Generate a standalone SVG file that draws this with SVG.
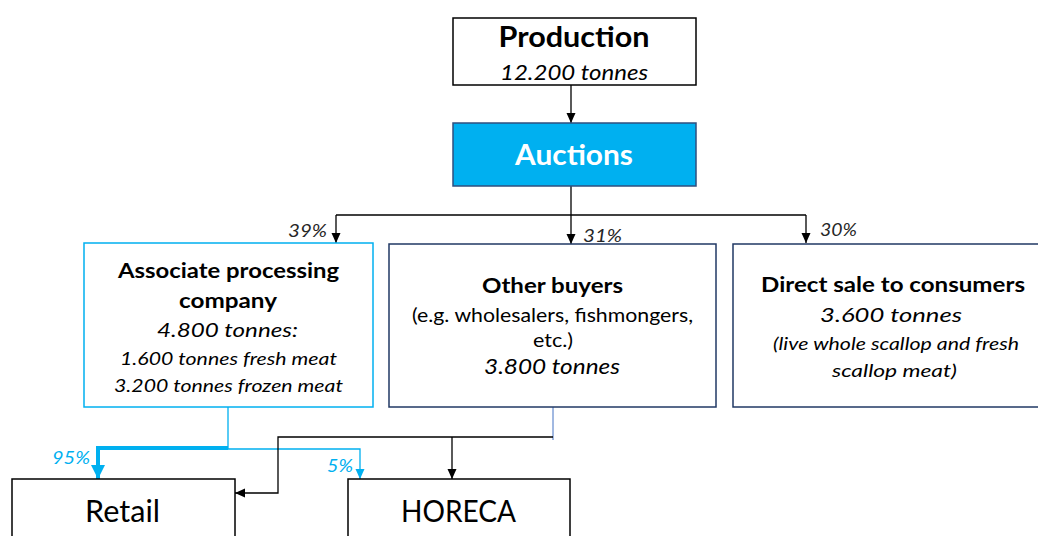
<svg xmlns="http://www.w3.org/2000/svg" width="1038" height="536" viewBox="0 0 1038 536">
<style>
text{font-family:Lato,"Open Sans","Liberation Sans",sans-serif;fill:#000;text-anchor:middle}
.b{font-weight:bold}
.i{font-style:italic}
.pct{font-style:italic;fill:#262626;text-anchor:start}
.bpct{font-style:italic;fill:#00B0F0;text-anchor:start}
.box{fill:#fff;stroke:#000;stroke-width:1.5}
.navy{fill:#fff;stroke:#203864;stroke-width:1.5}
.lb{fill:#fff;stroke:#00B0F0;stroke-width:1.5}
.ln{fill:none;stroke:#000;stroke-width:1.3}
.bl{fill:none;stroke:#00B0F0;stroke-width:1.3}
.blt{fill:none;stroke:#00B0F0;stroke-width:4}
</style>
<defs>
<marker id="ah" markerUnits="userSpaceOnUse" markerWidth="10" markerHeight="10" viewBox="0 0 10 10" refX="10" refY="5" orient="auto"><path d="M0,0.5 L10,5 L0,9.5 Z" fill="#000"/></marker>
<marker id="ahb" markerUnits="userSpaceOnUse" markerWidth="10" markerHeight="10" viewBox="0 0 10 10" refX="10" refY="5" orient="auto"><path d="M0,0.5 L10,5 L0,9.5 Z" fill="#00B0F0"/></marker>
<marker id="ahbt" markerUnits="userSpaceOnUse" markerWidth="14" markerHeight="14" viewBox="0 0 14 14" refX="14" refY="7" orient="auto"><path d="M0,0 L14,7 L0,14 Z" fill="#00B0F0"/></marker>
</defs>
<g id="connectors">
<path class="ln" d="M571,85 V123" marker-end="url(#ah)"/>
<path class="ln" d="M571,186 V215"/>
<path class="ln" d="M336,215 H806"/>
<path class="ln" d="M336,215 V243" marker-end="url(#ah)"/>
<path class="ln" d="M571,215 V244" marker-end="url(#ah)"/>
<path class="ln" d="M806,215 V243" marker-end="url(#ah)"/>
<path class="bl" d="M228,407 V449 H360 V479" marker-end="url(#ahb)"/>
<path class="blt" d="M228,448 H98 V479" marker-end="url(#ahbt)"/>
<path fill="none" stroke="#4472C4" stroke-width="1" d="M553,407 V440"/>
<path class="ln" d="M553,437 H278 V493 H235" marker-end="url(#ah)"/>
<path class="ln" d="M452,437 V479" marker-end="url(#ah)"/>
<text class="pct" x="288" y="237" font-size="17" textLength="39" lengthAdjust="spacingAndGlyphs">39%</text>
<text class="pct" x="583" y="242" font-size="17" textLength="39" lengthAdjust="spacingAndGlyphs">31%</text>
<text class="pct" x="820" y="236" font-size="17" textLength="37" lengthAdjust="spacingAndGlyphs">30%</text>
<text class="bpct" x="52" y="464" font-size="17" textLength="38" lengthAdjust="spacingAndGlyphs">95%</text>
<text class="bpct" x="327" y="472" font-size="17" textLength="26" lengthAdjust="spacingAndGlyphs">5%</text>
</g>
<g id="production">
<rect class="box" x="453" y="18" width="243" height="67"/>
<text class="b" x="574" y="47" font-size="29" textLength="151" lengthAdjust="spacingAndGlyphs">Production</text>
<text class="i" x="574" y="80" font-size="21" textLength="148" lengthAdjust="spacingAndGlyphs">12.200 tonnes</text>
</g>
<g id="auctions">
<rect x="453" y="123" width="243" height="63" fill="#00B0F0" stroke="#2F4F7F" stroke-width="1.5"/>
<text class="b" x="574" y="165" font-size="28" style="fill:#fff" textLength="118" lengthAdjust="spacingAndGlyphs">Auctions</text>
</g>
<g id="associate">
<rect class="lb" x="84" y="243" width="289" height="164"/>
<text class="b" x="228.5" y="278" font-size="21" textLength="221" lengthAdjust="spacingAndGlyphs">Associate processing</text>
<text class="b" x="228" y="308" font-size="21" textLength="98" lengthAdjust="spacingAndGlyphs">company</text>
<text class="i" x="227.5" y="337" font-size="19.5" textLength="141" lengthAdjust="spacingAndGlyphs">4.800 tonnes:</text>
<text class="i" x="228.5" y="365" font-size="17.5" textLength="217" lengthAdjust="spacingAndGlyphs">1.600 tonnes fresh meat</text>
<text class="i" x="228.5" y="392" font-size="17.5" textLength="229" lengthAdjust="spacingAndGlyphs">3.200 tonnes frozen meat</text>
</g>
<g id="other-buyers">
<rect class="navy" x="389" y="244" width="327" height="163"/>
<text class="b" x="552.5" y="293" font-size="20" textLength="141" lengthAdjust="spacingAndGlyphs">Other buyers</text>
<text x="552.5" y="322" font-size="18.5" textLength="281" lengthAdjust="spacingAndGlyphs">(e.g. wholesalers, fishmongers,</text>
<text x="553" y="347" font-size="18.5" textLength="40" lengthAdjust="spacingAndGlyphs">etc.)</text>
<text class="i" x="552" y="374" font-size="21" textLength="136" lengthAdjust="spacingAndGlyphs">3.800 tonnes</text>
</g>
<g id="direct-sale">
<rect class="navy" x="733" y="244" width="330" height="163"/>
<text class="b" x="893" y="292" font-size="21" textLength="264" lengthAdjust="spacingAndGlyphs">Direct sale to consumers</text>
<text class="i" x="891" y="322" font-size="19.5" textLength="142" lengthAdjust="spacingAndGlyphs">3.600 tonnes</text>
<text class="i" x="896" y="350" font-size="18" textLength="246" lengthAdjust="spacingAndGlyphs">(live whole scallop and fresh</text>
<text class="i" x="894.5" y="377" font-size="18" textLength="125" lengthAdjust="spacingAndGlyphs">scallop meat)</text>
</g>
<g id="retail">
<rect class="box" x="12" y="479" width="223" height="70"/>
<text x="122.5" y="522" font-size="30" textLength="75" lengthAdjust="spacingAndGlyphs">Retail</text>
</g>
<g id="horeca">
<rect class="box" x="348" y="479" width="222" height="70"/>
<text x="458.5" y="522" font-size="30" textLength="115" lengthAdjust="spacingAndGlyphs">HORECA</text>
</g>
</svg>
